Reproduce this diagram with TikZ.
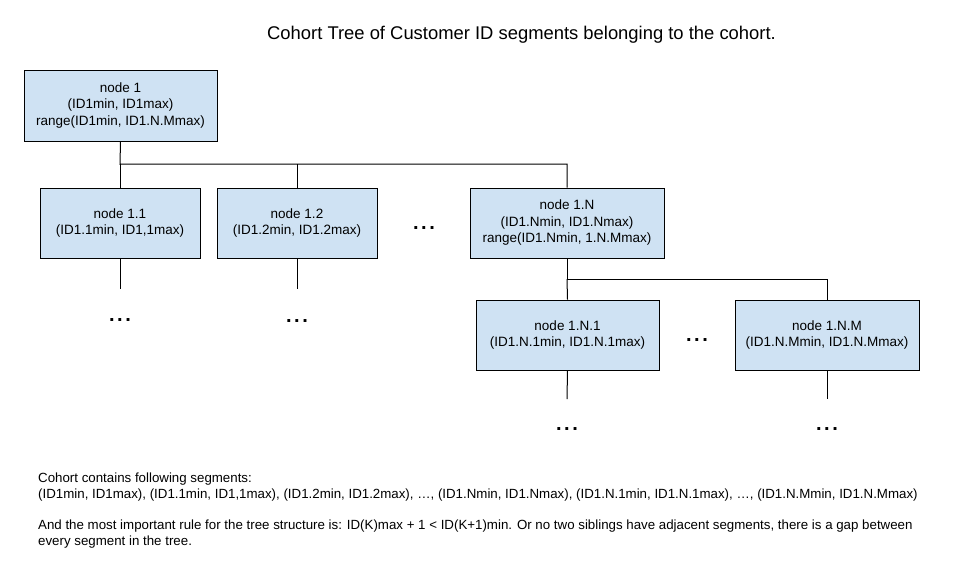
\documentclass[tikz,border=0pt]{standalone}
\usepackage{fontspec}
\setmainfont{Liberation Sans}
\usetikzlibrary{positioning}

\definecolor{boxblue}{HTML}{CFE2F3}

\tikzset{
  segbox/.style={draw=black, fill=boxblue, line width=1pt, align=center,
    font=\fontsize{13.5}{16.5}\selectfont},
  more/.style={font=\fontsize{20}{20}\selectfont\bfseries, inner sep=0pt, anchor=base},
  note/.style={anchor=west, align=left, inner sep=0pt,
    font=\fontsize{13.3}{16}\selectfont},
  link/.style={line width=1pt}
}

\begin{document}
\begin{tikzpicture}[x=1pt, y=-1pt]
\useasboundingbox (0,0) rectangle (957,565);

% Titel
\node[font=\fontsize{18.4}{18.4}\selectfont] (title) at (521.5,35)
  {Cohort Tree of Customer ID segments belonging to the cohort.};

% Wurzel
\node[segbox, minimum width=193pt, minimum height=71pt] (n1) at (120.5,105.5)
  {node 1\\(ID1min, ID1max)\\range(ID1min, ID1.N.Mmax)};

% Erste Ebene
\node[segbox, minimum width=160pt, minimum height=70pt] (n11) at (120,223)
  {node 1.1\\(ID1.1min, ID1,1max)};
\node[segbox, minimum width=160pt, minimum height=70pt] (n12) at (297,223)
  {node 1.2\\(ID1.2min, ID1.2max)};
\node[segbox, minimum width=194pt, minimum height=70pt] (n1N) at (567,223)
  {node 1.N\\(ID1.Nmin, ID1.Nmax)\\range(ID1.Nmin, 1.N.Mmax)};

% Zweite Ebene
\node[segbox, minimum width=183pt, minimum height=70pt] (n1N1) at (567.5,335)
  {node 1.N.1\\(ID1.N.1min, ID1.N.1max)};
\node[segbox, minimum width=184pt, minimum height=70pt] (n1NM) at (827,335)
  {node 1.N.M\\(ID1.N.Mmin, ID1.N.Mmax)};

% Punkte
\node[more] (dotsA) at (424,229) {.\kern2.5pt.\kern2.5pt.};
\node[more] (dotsB) at (697,341) {.\kern2.5pt.\kern2.5pt.};
\node[more] (dots11) at (120,321) {.\kern2.5pt.\kern2.5pt.};
\node[more] (dots12) at (297,322) {.\kern2.5pt.\kern2.5pt.};
\node[more] (dots1N1) at (567,430) {.\kern2.5pt.\kern2.5pt.};
\node[more] (dots1NM) at (827,430) {.\kern2.5pt.\kern2.5pt.};

% Verbindungen
\coordinate (bus1) at (120,164);
\coordinate (bus2) at (567,279);
\draw[link] (n1.south) -- (bus1) -| (n1N.north);
\draw[link] (n11.north) -- (bus1);
\draw[link] (n12.north) -- (n12.north |- bus1);
\draw[link] (n1N.south) -- (bus2) -| (n1NM.north);
\draw[link] (n1N1.north) -- (bus2);

% offene Enden
\coordinate (e11) at (120,289);
\coordinate (e12) at (297,289);
\coordinate (e1N1) at (567,399);
\coordinate (e1NM) at (827,399);
\draw[link] (n11.south) -- (e11);
\draw[link] (n12.south) -- (e12);
\draw[link] (n1N1.south) -- (e1N1);
\draw[link] (n1NM.south) -- (e1NM);

% Text unten
\node[note] (segs) at (38,487.5)
  {Cohort contains following segments:\\
   (ID1min, ID1max), (ID1.1min, ID1,1max), (ID1.2min, ID1.2max), \dots, (ID1.Nmin, ID1.Nmax), (ID1.N.1min, ID1.N.1max), \dots, (ID1.N.Mmin, ID1.N.Mmax)};
\node[note] (rule) at (38,534.5)
  {And the most important rule for the tree structure is: ID(K)max + 1 < ID(K+1)min. Or no two siblings have adjacent segments, there is a gap between\\
   every segment in the tree.};
\end{tikzpicture}
\end{document}
